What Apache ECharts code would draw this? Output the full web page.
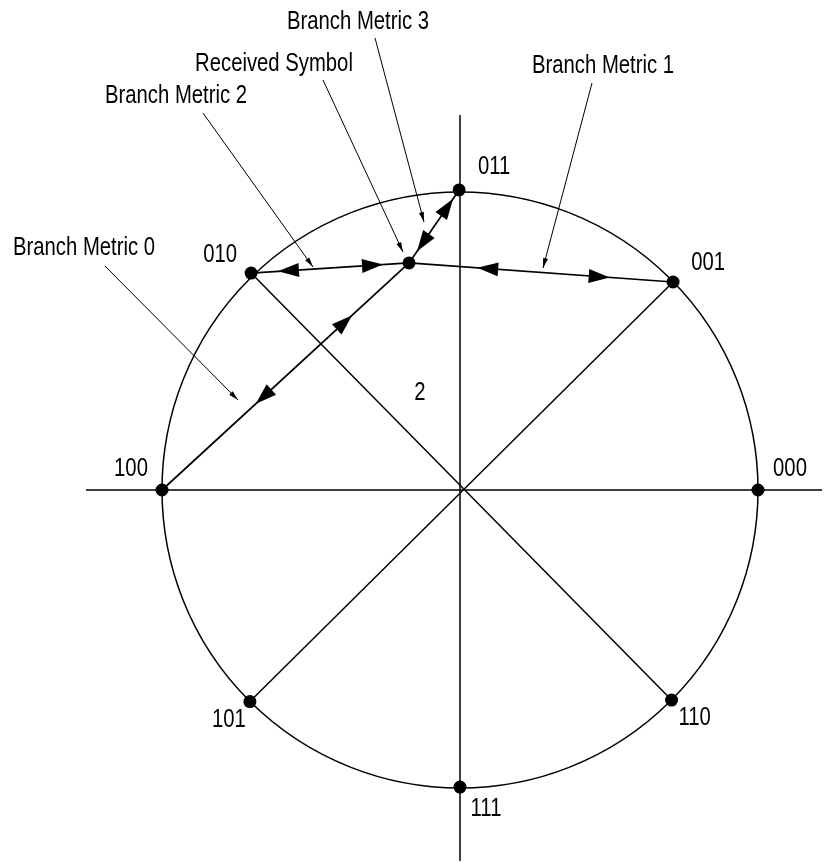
<!DOCTYPE html>
<html>
<head>
<meta charset="utf-8">
<title>8-PSK branch metrics</title>
<script src="https://cdn.jsdelivr.net/npm/echarts@6/dist/echarts.min.js"></script>
<style>
  html, body { margin: 0; padding: 0; background: #fff; }
  #main { width: 825px; height: 863px; }
</style>
</head>
<body>
<div id="main"></div>
<script>
// constellation points, unit circle coordinates
var symbolNames = ['000', '001', '011', '010', '100', '101', '111', '110'];
var symbolX = [1.0, 0.715, -0.003, -0.701, -1.0, -0.705, 0.0, 0.71];
var symbolY = [0.0, 0.698, 1.007, 0.728, 0.0, -0.71, -0.997, -0.705];
var receivedSymbol = [-0.171, 0.762];

// branch metrics: received symbol -> constellation point
var metricNames = ['Branch Metric 0', 'Branch Metric 1', 'Branch Metric 2', 'Branch Metric 3'];
var metricTargets = ['100', '001', '010', '011'];
// arrow tips along each metric line (fraction measured from the received symbol)
var tipToReceived = [0.23, 0.258, 0.165, 0.16];
var tipToPoint = [0.62, 0.76, 0.83, 0.88];

// the straight construction lines
var axisH = [[-1.255, 0], [1.215, 0]];
var axisV = [[0, 1.258], [0, -1.245]];
var diagonals = [['010', '110'], ['001', '101']];
var regionLabel = '2';

// ---- layout (pixels) ----
var CX = 460, CY = 490, R = 298;
var X_MIN = -1.5, X_MAX = 1.25, Y_MIN = -1.25, Y_MAX = 1.6;
// condensed look: Liberation Sans squeezed horizontally
var FONT = "'Liberation Sans', Arial, sans-serif";
var FONT_SIZE = 26;
var SQUEEZE = 0.78;

// label centre offset from its dot
var labelOffsets = {
  '000': [32, -21], '001': [35, -19], '011': [35, -23], '010': [-31, -18],
  '100': [-31, -21], '101': [-21, 18], '111': [26, 22], '110': [23, 18]
};
// annotation text centres and leader lines (start, tip)
var annotations = [
  { text: 'Branch Metric 3', at: [358, 22], leader: [[375, 38], [424, 222]] },
  { text: 'Received Symbol', at: [274, 64], leader: [[323, 80], [403, 252]] },
  { text: 'Branch Metric 2', at: [176, 96], leader: [[203, 113], [313, 267]] },
  { text: 'Branch Metric 0', at: [84, 248], leader: [[105, 266], [238, 400]] },
  { text: 'Branch Metric 1', at: [603, 66], leader: [[592, 83], [543, 268]] }
];
var regionLabelAt = [420, 393];

function toData(p) { return [(p[0] - CX) / R, (CY - p[1]) / R]; }
function pointOf(name) {
  var i = symbolNames.indexOf(name);
  return [symbolX[i], symbolY[i]];
}
function textEl(str, x, y) {
  return {
    type: 'text', x: x, y: y, scaleX: SQUEEZE, z: 10, silent: true,
    style: { text: str, font: FONT_SIZE + 'px ' + FONT, fill: '#000',
             align: 'center', verticalAlign: 'middle' }
  };
}

// filled triangle whose tip sits at fraction t along from->to
function arrowHead(from, to, t, pointForward, w, h) {
  var dx = to[0] - from[0], dy = to[1] - from[1];
  var len = Math.sqrt(dx * dx + dy * dy);
  var ux = dx / len, uy = dy / len;
  if (!pointForward) { ux = -ux; uy = -uy; }
  var tip = [from[0] + dx * t, from[1] + dy * t];
  var half = h / 2 / R;
  var ang = Math.atan2(uy, ux) * 180 / Math.PI;
  return {
    value: [tip[0] - ux * half, tip[1] - uy * half],
    symbolSize: [w, h],
    symbolRotate: ang - 90
  };
}

var series = [];
function segment(a, b, width) {
  series.push({
    type: 'line', data: [a, b], symbol: 'none', silent: true,
    lineStyle: { color: '#000', width: width, opacity: 1 }, z: 2
  });
}

segment(axisH[0], axisH[1], 1.5);
segment(axisV[0], axisV[1], 1.5);
diagonals.forEach(function (d) { segment(pointOf(d[0]), pointOf(d[1]), 1.5); });
metricTargets.forEach(function (n) { segment(receivedSymbol, pointOf(n), 1.7); });

var heads = [];
metricTargets.forEach(function (n, i) {
  var p = pointOf(n);
  heads.push(arrowHead(receivedSymbol, p, tipToReceived[i], false, 14, 21));
  heads.push(arrowHead(receivedSymbol, p, tipToPoint[i], true, 14, 21));
});

var graphics = [];
annotations.forEach(function (a) {
  var s = toData(a.leader[0]), e = toData(a.leader[1]);
  segment(s, e, 1);
  heads.push(arrowHead(s, e, 1, true, 5, 10));
  graphics.push(textEl(a.text, a.at[0], a.at[1]));
});
graphics.push(textEl(regionLabel, regionLabelAt[0], regionLabelAt[1]));

series.push({
  type: 'scatter', symbol: 'triangle', data: heads, silent: true,
  itemStyle: { color: '#000', opacity: 1 }, z: 4
});

var dots = symbolNames.map(function (n, i) {
  return { name: n, value: [symbolX[i], symbolY[i]] };
});
dots.push({ name: 'received', value: receivedSymbol });
series.push({
  type: 'scatter', data: dots, symbolSize: 13, silent: true,
  itemStyle: { color: '#000', opacity: 1 }, z: 5
});

var chart = echarts.init(document.getElementById('main'), null, { renderer: 'canvas' });
chart.setOption({
  animation: false,
  backgroundColor: '#fff',
  grid: {
    left: CX + X_MIN * R, top: CY - Y_MAX * R,
    width: (X_MAX - X_MIN) * R, height: (Y_MAX - Y_MIN) * R,
    containLabel: false, outerBoundsMode: 'none'
  },
  xAxis: { type: 'value', min: X_MIN, max: X_MAX, show: false },
  yAxis: { type: 'value', min: Y_MIN, max: Y_MAX, show: false },
  polar: { center: [CX, CY], radius: R },
  angleAxis: {
    type: 'value', min: 0, max: 360, startAngle: 0,
    axisLine: { show: true, lineStyle: { color: '#000', width: 1.5 } },
    axisTick: { show: false }, axisLabel: { show: false }, splitLine: { show: false }
  },
  radiusAxis: { type: 'value', min: 0, max: 1, show: false },
  series: series
});

// constellation labels sit next to their dots, placed through the grid scale
symbolNames.forEach(function (n, i) {
  var px = chart.convertToPixel({ gridIndex: 0 }, [symbolX[i], symbolY[i]]);
  var off = labelOffsets[n];
  graphics.push(textEl(n, px[0] + off[0], px[1] + off[1]));
});
chart.setOption({ graphic: graphics });
</script>
</body>
</html>
